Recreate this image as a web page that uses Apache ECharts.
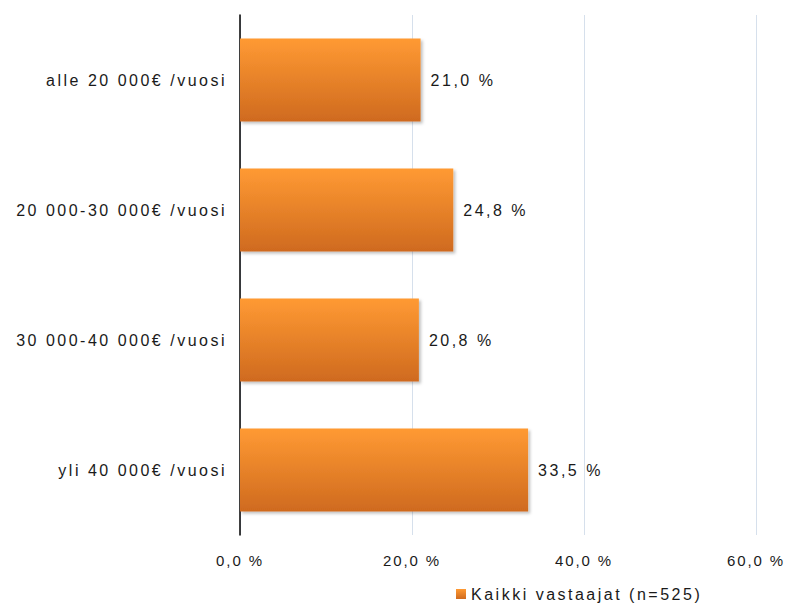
<!DOCTYPE html>
<html><head><meta charset="utf-8">
<script src="https://cdn.jsdelivr.net/npm/echarts@6/dist/echarts.min.js"></script>
<style>
html,body{margin:0;padding:0;background:#fff}#c{width:790px;height:604px}
#c text[style*="16px"]{letter-spacing:2.5px}
#c text[style*="15px"]{letter-spacing:1.9px}
</style>
</head><body><div id="c"></div>
<script>
const categories = ["alle 20 000€ /vuosi", "20 000-30 000€ /vuosi", "30 000-40 000€ /vuosi", "yli 40 000€ /vuosi"];
const values = [21.0, 24.8, 20.8, 33.5];
const seriesName = "Kaikki vastaajat (n=525)";
const fmt = v => v.toFixed(1).replace('.', ',') + ' %';
const font = 'Liberation Sans';
const chart = echarts.init(document.getElementById('c'), null, {renderer: 'svg'});
chart.setOption({
  animation: false,
  grid: {left: 240, right: 34, top: 15, bottom: 69, containLabel: false},
  legend: {
    top: 581, left: 451, itemWidth: 10, itemHeight: 10, itemGap: 5,
    icon: 'rect',
    textStyle: {fontFamily: font, fontSize: 16, color: '#1a1a1a'},
    data: [seriesName]
  },
  xAxis: {
    type: 'value', min: 0, max: 60, interval: 20,
    axisLine: {show: false}, axisTick: {show: false},
    splitLine: {lineStyle: {color: '#d6e0ec', width: 1}},
    axisLabel: {formatter: v => fmt(v), fontFamily: font, fontSize: 15, color: '#1a1a1a', margin: 18}
  },
  yAxis: {
    type: 'category', inverse: true, data: categories,
    axisLine: {lineStyle: {color: '#000', width: 1.5}},
    axisTick: {show: false},
    axisLabel: {fontFamily: font, fontSize: 16, color: '#1a1a1a', margin: 13}
  },
  series: [{
    name: seriesName, type: 'bar', data: values, barCategoryGap: '36%',
    itemStyle: {
      color: new echarts.graphic.LinearGradient(0, 0, 0, 1, [
        {offset: 0, color: '#ff9a33'}, {offset: 1, color: '#cf6a1f'}
      ]),
      shadowColor: 'rgba(0,0,0,0.25)', shadowBlur: 3, shadowOffsetX: 2, shadowOffsetY: 2
    },
    label: {show: true, position: 'right', distance: 10, formatter: p => fmt(p.value),
      fontFamily: font, fontSize: 16, color: '#1a1a1a'}
  }]
});
</script></body></html>
